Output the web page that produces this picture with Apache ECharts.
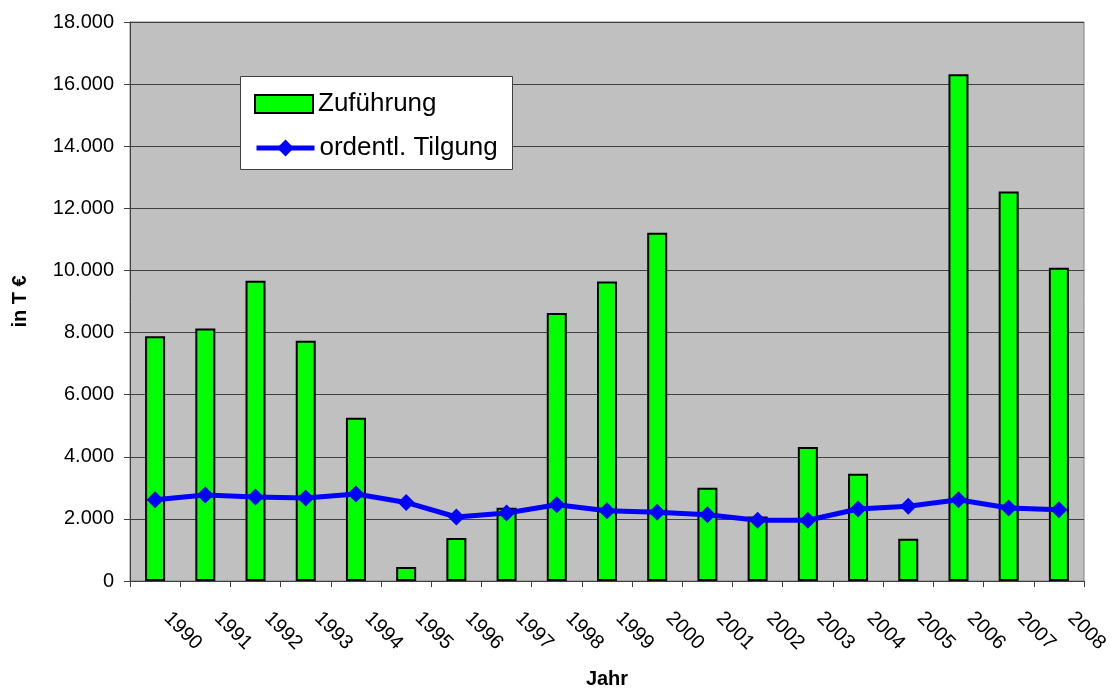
<!DOCTYPE html>
<html>
<head>
<meta charset="utf-8">
<script src="https://cdn.jsdelivr.net/npm/echarts@6/dist/echarts.min.js"></script>
<style>
html,body{margin:0;padding:0;background:#fff;}
#c{width:1112px;height:689px;}
</style>
</head>
<body>
<div id="c"></div>
<script>
const years = ['1990','1991','1992','1993','1994','1995','1996','1997','1998','1999','2000','2001','2002','2003','2004','2005','2006','2007','2008'];
const zufuehrung = [7880, 8130, 9665, 7740, 5260, 450, 1385, 2360, 8630, 9640, 11215, 3005, 2080, 4315, 3455, 1360, 16320, 12545, 10085];
const tilgung = [2615, 2770, 2705, 2675, 2800, 2530, 2060, 2190, 2455, 2265, 2210, 2135, 1955, 1955, 2320, 2405, 2615, 2350, 2295];
const seriesNames = ['Zuführung', 'ordentl. Tilgung'];
const yTitle = 'in T €';
const xTitle = 'Jahr';

const font = 'Liberation Sans, Arial, sans-serif';
const chart = echarts.init(document.getElementById('c'));
const legendText = { fontSize: 26, color: '#000', fontFamily: font };
chart.setOption({
  animation: false,
  backgroundColor: '#ffffff',
  textStyle: { fontFamily: font },
  grid: {
    left: 130, right: 28, top: 22, bottom: 108,
    outerBoundsMode: 'none', containLabel: false,
    show: true, backgroundColor: '#c0c0c0', borderColor: '#808080', borderWidth: 1
  },
  graphic: [{
    type: 'rect', z: 3, left: 240, top: 76,
    shape: { width: 272, height: 93 },
    style: { fill: '#ffffff', stroke: '#404040', lineWidth: 1 }
  }],
  legend: [
    {
      z: 5, left: 254, top: 91, padding: 0,
      itemWidth: 58, itemHeight: 18,
      textStyle: legendText,
      data: [{ name: seriesNames[0], icon: 'rect', itemStyle: { color: '#00ff00', borderColor: '#000', borderWidth: 2 } }]
    },
    {
      z: 5, left: 254, top: 135, padding: 0,
      itemWidth: 58, itemHeight: 21,
      textStyle: legendText,
      lineStyle: { width: 5, color: '#0000ff' },
      data: [{ name: seriesNames[1] }]
    }
  ],
  xAxis: {
    type: 'category',
    data: years,
    boundaryGap: true,
    name: xTitle,
    nameLocation: 'middle',
    nameGap: 88,
    nameTextStyle: { fontSize: 20, fontWeight: 'bold', color: '#000', fontFamily: font },
    axisLine: { lineStyle: { color: '#404040', width: 1 } },
    axisTick: { show: true, length: 6, alignWithLabel: false, lineStyle: { color: '#404040' } },
    axisLabel: {
      rotate: -45, fontSize: 20, color: '#000', margin: 22,
      padding: [0, 0, 0, 17], interval: 0, fontFamily: font
    },
    splitLine: { show: false }
  },
  yAxis: {
    type: 'value',
    min: 0, max: 18000, interval: 2000,
    name: yTitle,
    nameLocation: 'middle',
    nameRotate: 90,
    nameGap: 100,
    nameTextStyle: { fontSize: 20, fontWeight: 'bold', color: '#000', fontFamily: font },
    axisLine: { show: true, lineStyle: { color: '#404040', width: 1 } },
    axisTick: { show: true, length: 6, lineStyle: { color: '#404040' } },
    axisLabel: {
      fontSize: 20, color: '#000', margin: 16, fontFamily: font,
      formatter: v => v === 0 ? '0' : (v / 1000).toFixed(0) + '.000'
    },
    splitLine: { show: true, lineStyle: { color: '#404040', width: 1 } }
  },
  series: [
    {
      name: seriesNames[0],
      type: 'bar',
      data: zufuehrung,
      barWidth: 20,
      itemStyle: { color: '#00ff00', borderColor: '#000000', borderWidth: 2 },
      z: 2
    },
    {
      name: seriesNames[1],
      type: 'line',
      data: tilgung,
      symbol: 'diamond',
      symbolSize: 17,
      lineStyle: { color: '#0000ff', width: 5 },
      itemStyle: { color: '#0000ff' },
      z: 3
    }
  ]
});
</script>
</body>
</html>
